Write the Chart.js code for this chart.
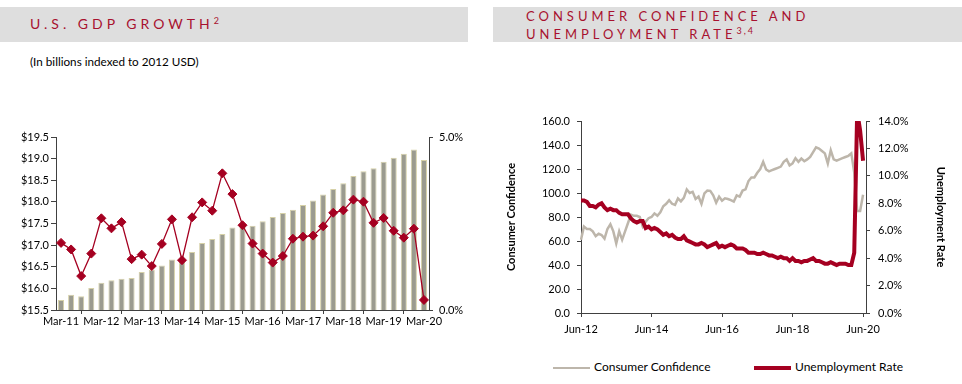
<!DOCTYPE html>
<html>
<head>
<meta charset="utf-8">
<script src="https://cdn.jsdelivr.net/npm/chart.js@4.4.0/dist/chart.umd.min.js"></script>
<style>
  body { margin: 0; width: 962px; height: 384px; overflow: hidden; background: #fff; position: relative; font-family: Lato, "Noto Sans", sans-serif; color: #000; }
  .band { position: absolute; top: 7px; height: 35px; background: #dedede; }
  .ttl { position: absolute; color: #a8112f; font-size: 14px; letter-spacing: 4px; line-height: 18px; white-space: nowrap; }
  .ttl .sup { font-size: 9px; letter-spacing: 2px; position: relative; top: -5px; }
  #sub { position: absolute; left: 30px; top: 54px; font-size: 11.7px; }
  canvas { position: absolute; top: 0; }
  .leg { position: absolute; top: 359px; font-size: 12px; line-height: 16px; white-space: nowrap; }
  .leg i { display: inline-block; width: 37px; vertical-align: middle; margin-right: 4px; }
</style>
</head>
<body>
<div class="band" style="left:0;width:468px"></div>
<div class="band" style="left:493px;width:469px"></div>
<div class="ttl" style="left:30px;top:15px">U.S. GDP GROWTH<span class="sup">2</span></div>
<div class="ttl" style="left:526px;top:7px;font-size:13px">CONSUMER CONFIDENCE AND<br>UNEMPLOYMENT RATE<span class="sup">3,4</span></div>
<div id="sub">(In billions indexed to 2012 USD)</div>

<canvas id="gdpChart" width="470" height="340" style="left:0"></canvas>
<canvas id="ccChart" width="482" height="350" style="left:480px"></canvas>

<div class="leg" style="left:553px"><i style="border-top:2.5px solid #bdb6ab"></i>Consumer Confidence</div>
<div class="leg" style="left:754px"><i style="border-top:4px solid #a50021"></i>Unemployment Rate</div>

<script>
// GDP, quarterly Mar-11 .. Mar-20 (trillions, 2012 USD) and YoY growth (%)
const gdpValue = [15.73, 15.85, 15.82, 16.01, 16.13, 16.19, 16.22, 16.24, 16.38, 16.43,
  16.53, 16.67, 16.65, 16.84, 17.05, 17.14, 17.26, 17.41, 17.45, 17.45,
  17.55, 17.65, 17.74, 17.82, 17.93, 18.03, 18.17, 18.30, 18.43, 18.60,
  18.71, 18.78, 18.93, 19.02, 19.11, 19.21, 18.97];
const gdpGrowth = [1.94, 1.75, 0.98, 1.63, 2.65, 2.36, 2.54, 1.47, 1.60, 1.27,
  1.91, 2.62, 1.44, 2.68, 3.11, 2.87, 3.95, 3.35, 2.45, 1.92,
  1.63, 1.37, 1.56, 2.06, 2.12, 2.15, 2.42, 2.81, 2.88, 3.19,
  3.13, 2.52, 2.66, 2.29, 2.09, 2.35, 0.29];

// monthly Jun-12 .. Jun-20
const confidence = [61, 72, 70, 70, 68, 64, 66, 65, 62, 70,
  74, 68, 58, 68, 61, 68, 75, 82, 81, 81,
  80, 72, 76, 79, 80, 83, 81, 84, 89, 91,
  94, 91, 90, 95.5, 93, 96, 103, 100, 101, 95,
  97, 91, 99.7, 102, 101.8, 98, 92, 97, 93.5, 95.5,
  95, 94, 92.8, 98, 97, 102, 103, 110, 113, 113,
  116.8, 120, 126, 119.6, 118, 119, 120, 121, 122, 126,
  128, 123, 124.6, 129, 126, 128.7, 126.5, 128, 130, 134,
  138, 137, 135, 133, 124.6, 135.6, 128, 127, 128, 129,
  130, 131, 133, 117, 85, 85, 98.5];
const unemployment = [8.2, 8.2, 8.1, 7.8, 7.8, 7.7, 7.9,
  8.0, 7.7, 7.5, 7.6, 7.5, 7.5, 7.3, 7.2, 7.2, 7.2, 6.9, 6.7,
  6.6, 6.7, 6.7, 6.2, 6.3, 6.1, 6.2, 6.1, 5.9, 5.7, 5.8, 5.6,
  5.7, 5.5, 5.4, 5.4, 5.6, 5.3, 5.2, 5.1, 5.0, 5.0, 5.1, 5.0,
  4.8, 4.9, 5.0, 5.1, 4.8, 4.9, 4.8, 4.9, 5.0, 4.9, 4.7, 4.7,
  4.7, 4.6, 4.4, 4.4, 4.4, 4.3, 4.3, 4.4, 4.3, 4.2, 4.2, 4.1,
  4.0, 4.1, 4.0, 4.0, 3.8, 4.0, 3.8, 3.8, 3.7, 3.8, 3.8, 3.9,
  4.0, 3.8, 3.8, 3.7, 3.6, 3.6, 3.7, 3.6, 3.5, 3.6, 3.6, 3.6,
  3.5, 3.5, 4.4, 14.7, 13.3, 11.1];

const quarters = [];
for (let y = 11; y <= 20; y++) {
  for (const q of ['Mar', 'Jun', 'Sep', 'Dec']) {
    if (y === 20 && q !== 'Mar') break;
    quarters.push(q + '-' + y);
  }
}
const monNames = ['Jan','Feb','Mar','Apr','May','Jun','Jul','Aug','Sep','Oct','Nov','Dec'];
const months = [];
for (let i = 0; i < 98; i++) {   // axis runs one month past the last point
  const k = 5 + i;
  months.push(monNames[k % 12] + '-' + (12 + Math.floor(k / 12)));
}

const RED = '#a50021';
const GRAY = '#bdb6ab';
const AX = '#404040';

Chart.defaults.font.family = 'Lato, "Noto Sans", sans-serif';
Chart.defaults.font.size = 11;
Chart.defaults.color = '#000';

new Chart(document.getElementById('gdpChart'), {
  type: 'bar',
  data: {
    labels: quarters,
    datasets: [{
        type: 'line',
        label: 'GDP Growth',
        data: gdpGrowth,
        yAxisID: 'y1',
        borderColor: RED,
        backgroundColor: RED,
        borderWidth: 1.3,
        pointStyle: 'rectRot',
        pointRadius: 4.5,
        pointBorderWidth: 1,
        order: 0
      },
      {
        type: 'bar',
        label: 'GDP',
        data: gdpValue,
        yAxisID: 'y',
        backgroundColor: '#9b9b8f',
        borderColor: '#d6d1a8',
        borderWidth: 1,
        barPercentage: 0.6,
        categoryPercentage: 1,
        order: 1
      }
    ]
  },
  options: {
    responsive: false,
    animation: false,
    events: [],
    layout: { padding: { top: 137, left: 0, right: 0, bottom: 0 } },
    plugins: { legend: { display: false }, tooltip: { enabled: false } },
    scales: {
      x: {
        offset: true,
        grid: { offset: true, drawOnChartArea: false, tickLength: 4, color: AX },
        border: { color: AX },
        ticks: {
          autoSkip: false, maxRotation: 0, padding: 1,
          callback: function (v, i) { return i % 4 === 0 ? this.getLabelForValue(v) : null; }
        },
        afterFit: function (s) { s.height = 30; }
      },
      y: {
        position: 'left',
        min: 15.5, max: 19.5,
        grid: { drawOnChartArea: false, tickLength: 5, color: AX },
        border: { color: AX },
        ticks: { stepSize: 0.5, padding: 2, callback: v => '$' + v.toFixed(1) },
        afterFit: function (s) { s.width = 56; }
      },
      y1: {
        position: 'right',
        min: 0, max: 5,
        grid: { drawOnChartArea: false, tickLength: 4, color: AX },
        border: { color: AX },
        ticks: { stepSize: 5, padding: 6, callback: v => v.toFixed(1) + '%' },
        afterFit: function (s) { s.width = 41; }
      }
    }
  }
});

new Chart(document.getElementById('ccChart'), {
  type: 'line',
  data: {
    labels: months,
    datasets: [{
        label: 'Consumer Confidence',
        data: confidence,
        yAxisID: 'y',
        borderColor: GRAY,
        borderWidth: 2.5,
        pointRadius: 0,
        order: 1
      },
      {
        label: 'Unemployment Rate',
        data: unemployment,
        yAxisID: 'y1',
        borderColor: RED,
        borderWidth: 4,
        pointRadius: 0,
        order: 0
      }
    ]
  },
  options: {
    responsive: false,
    animation: false,
    events: [],
    layout: { padding: { top: 121, left: 0, right: 0, bottom: 0 } },
    plugins: { legend: { display: false }, tooltip: { enabled: false } },
    scales: {
      x: {
        grid: { drawOnChartArea: false, tickLength: 4, color: AX },
        border: { color: AX },
        ticks: {
          autoSkip: false, maxRotation: 0, padding: 6,
          callback: function (v, i) { return i % 24 === 0 ? this.getLabelForValue(v) : null; }
        },
        afterFit: function (s) { s.height = 37; }
      },
      y: {
        position: 'left',
        min: 0, max: 160,
        grid: { drawOnChartArea: false, tickLength: 4, color: AX },
        border: { color: AX },
        ticks: { stepSize: 20, padding: 7, callback: v => v.toFixed(1) },
        title: { display: true, text: 'Consumer Confidence', font: { weight: 'bold', size: 11 }, padding: { top: 25 } },
        afterFit: function (s) { s.width = 101; }
      },
      y1: {
        position: 'right',
        min: 0, max: 14,
        grid: { drawOnChartArea: false, tickLength: 4, color: AX },
        border: { color: AX },
        ticks: { stepSize: 2, padding: 8, callback: v => v.toFixed(1) + '%' },
        title: { display: true, text: 'Unemployment Rate', font: { weight: 'bold', size: 11 }, padding: { top: 15 } },
        afterFit: function (s) { s.width = 96; }
      }
    }
  }
});
</script>
</body>
</html>
